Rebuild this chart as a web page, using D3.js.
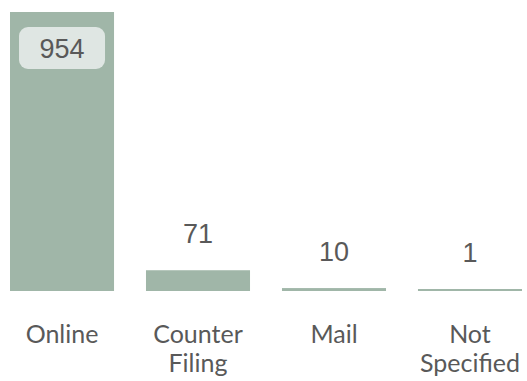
<!DOCTYPE html>
<html>
<head>
<meta charset="utf-8">
<script src="https://cdn.jsdelivr.net/npm/d3@7"></script>
<style>
  html, body { margin: 0; padding: 0; background: #ffffff; }
  svg { display: block; }
</style>
</head>
<body>
<svg id="chart" width="527" height="381"></svg>
<script>
// Filing channels and counts
const categories = ["Online", "Counter Filing", "Mail", "Not Specified"];
const labelLines = [["Online"], ["Counter", "Filing"], ["Mail"], ["Not", "Specified"]];
const counts = [954, 71, 10, 1];

const baseY = 291, topY = 12;

const svg = d3.select("#chart");

const x = d3.scaleBand()
  .domain(categories)
  .range([10, 522])
  .paddingInner(0.235)
  .paddingOuter(0);

const y = d3.scaleLinear()
  .domain([0, d3.max(counts)])
  .range([baseY, topY]);

const barColor = "#a0b6a8";
const textColor = "#595959";

const data = categories.map((c, i) => ({ cat: c, value: counts[i], lines: labelLines[i] }));

// bars (tiny values kept visible as a hairline)
svg.selectAll("rect.bar")
  .data(data)
  .join("rect")
  .attr("class", "bar")
  .attr("x", d => x(d.cat))
  .attr("width", x.bandwidth())
  .attr("y", d => Math.min(y(d.value), baseY - 2))
  .attr("height", d => Math.max(baseY - y(d.value), 2))
  .attr("fill", barColor);

// value labels: the tallest bar carries its value inside a rounded badge
const maxVal = d3.max(counts);
const big = data.filter(d => d.value === maxVal);
const small = data.filter(d => d.value !== maxVal);

const boxW = 86, boxH = 42;
const bigG = svg.selectAll("g.big").data(big).join("g").attr("class", "big");
bigG.append("rect")
  .attr("x", d => x(d.cat) + x.bandwidth() / 2 - boxW / 2)
  .attr("y", d => y(d.value) + 15)
  .attr("width", boxW)
  .attr("height", boxH)
  .attr("rx", 9)
  .attr("fill", "#dfe6e3");
bigG.append("text")
  .attr("x", d => x(d.cat) + x.bandwidth() / 2)
  .attr("y", d => y(d.value) + 15 + boxH / 2)
  .attr("dy", "0.36em")
  .attr("text-anchor", "middle")
  .style("font-family", "'Liberation Sans', Arial, sans-serif")
  .style("font-size", "27px")
  .attr("fill", textColor)
  .text(d => d.value);

svg.selectAll("text.val")
  .data(small)
  .join("text")
  .attr("class", "val")
  .attr("x", d => x(d.cat) + x.bandwidth() / 2)
  .attr("y", d => Math.min(y(d.value), baseY - 2) - 27)
  .attr("text-anchor", "middle")
  .style("font-family", "'Liberation Sans', Arial, sans-serif")
  .style("font-size", "27px")
  .attr("fill", textColor)
  .text(d => d.value);

// category labels
const cat = svg.selectAll("text.cat")
  .data(data)
  .join("text")
  .attr("class", "cat")
  .attr("x", d => x(d.cat) + x.bandwidth() / 2)
  .attr("y", 343)
  .attr("text-anchor", "middle")
  .style("font-family", "Lato, sans-serif")
  .style("font-size", "25px")
  .attr("fill", textColor);

cat.selectAll("tspan")
  .data(d => d.lines.map(l => ({ l, cx: x(d.cat) + x.bandwidth() / 2 })))
  .join("tspan")
  .attr("x", t => t.cx)
  .attr("dy", (t, i) => i === 0 ? 0 : 29)
  .text(t => t.l);
</script>
</body>
</html>
